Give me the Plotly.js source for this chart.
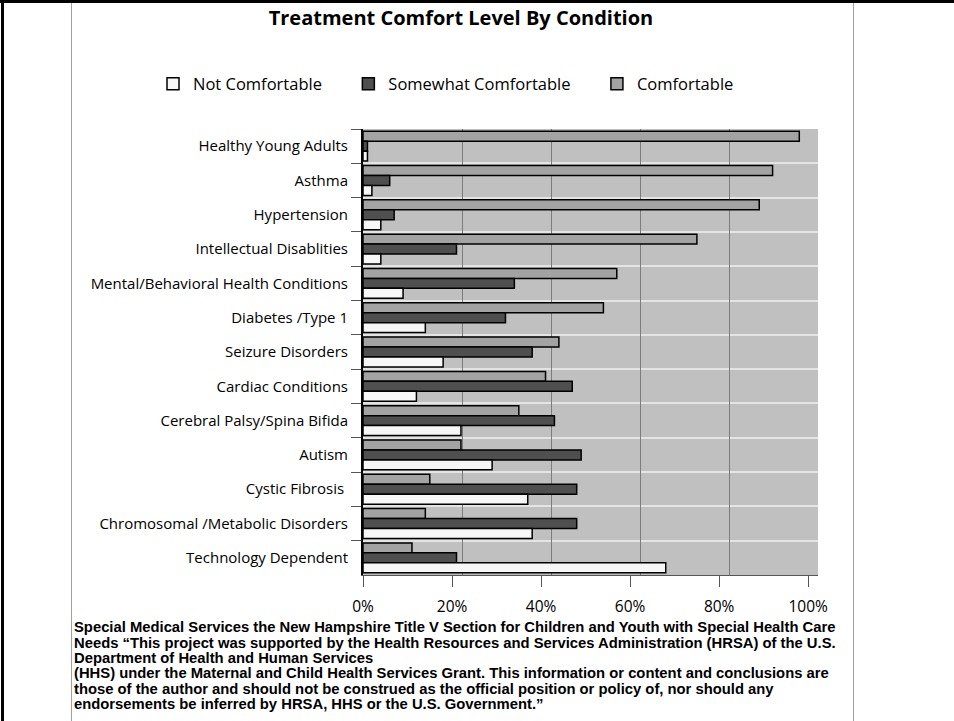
<!DOCTYPE html>
<html><head><meta charset="utf-8">
<script src="https://cdn.plot.ly/plotly-3.0.1.min.js"></script>
<style>
html,body{margin:0;padding:0;background:#fff;}
#wrap{position:relative;width:954px;height:721px;overflow:hidden;}
#chart{width:954px;height:721px;}
.frame{position:absolute;pointer-events:none;}
</style></head><body>
<div id="wrap">
<div id="chart"></div>
<div class="frame" style="left:0;top:0;width:954px;height:3px;background:#000"></div>
<div class="frame" style="left:1px;top:0;width:3px;height:721px;background:#000"></div>
<div class="frame" style="left:71px;top:3px;width:1px;height:718px;background:#a0a0a0"></div>
<div class="frame" style="left:853px;top:3px;width:1px;height:718px;background:#a0a0a0"></div>
</div>
<script>
var categories = ["Healthy Young Adults","Asthma","Hypertension","Intellectual Disablities",
  "Mental/Behavioral Health Conditions","Diabetes /Type 1","Seizure Disorders","Cardiac Conditions",
  "Cerebral Palsy/Spina Bifida","Autism","Cystic Fibrosis ","Chromosomal /Metabolic Disorders",
  "Technology Dependent"];
var comfortable    = [98, 92, 89, 75, 57, 54, 44, 41, 35, 22, 15, 14, 11];
var somewhat       = [ 1,  6,  7, 21, 34, 32, 38, 47, 43, 49, 48, 48, 21];
var notComfortable = [ 1,  2,  4,  4,  9, 14, 18, 12, 22, 29, 37, 38, 68];
var seriesNames = ["Comfortable", "Somewhat Comfortable", "Not Comfortable"];
var tickValues = [0, 20, 40, 60, 80, 100];
var tickLabels = ["0%", "20%", "40%", "60%", "80%", "100%"];
var footerLines = [
  "Special Medical Services the New Hampshire Title V Section for Children and Youth with Special Health Care",
  "Needs \u201cThis project was supported by the Health Resources and Services Administration (HRSA) of the U.S.",
  "Department of Health and Human Services",
  "(HHS) under the Maternal and Child Health Services Grant. This information or content and conclusions are",
  "those of the author and should not be construed as the official position or policy of, nor should any",
  "endorsements be inferred by HRSA, HHS or the U.S. Government.\u201d"
];

var labelFont = "Open Sans, DejaVu Sans, sans-serif";
var pad = "\u00a0\u00a0\u00a0\u00a0\u00a0";
function mk(vals, name, color) {
  return {type:"bar", orientation:"h", x: vals, y: categories, name: name + pad,
    marker:{color: color, line:{color:"#000", width:1.5}}, hoverinfo:"x+y"};
}
var data = [
  mk(comfortable, seriesNames[0], "#a3a3a3"),
  mk(somewhat, seriesNames[1], "#4f4f4f"),
  mk(notComfortable, seriesNames[2], "#f7f7f7"),
  {type:"scatter", mode:"markers", x:[], y:[], xaxis:"x2", yaxis:"y", showlegend:false, hoverinfo:"skip"}
];

var L = 363, R = 818, T = 129, B = 575;
function px2paperX(p){ return (p - L) / (R - L); }
function px2paperY(p){ return (B - p) / (B - T); }
var footerY = [627, 642.5, 658, 673, 688.5, 704];
var annotations = footerLines.map(function(t, i){
  return {text: t, xref:"paper", yref:"paper", x: px2paperX(72), y: px2paperY(footerY[i]),
    xanchor:"left", yanchor:"middle", showarrow:false, align:"left",
    font:{family:"Liberation Sans, Arial, sans-serif", size:14.8, color:"#000", weight:"bold"}};
});

var layout = {
  width:954, height:721,
  margin:{l:L, r:954-R, t:T, b:721-B, pad:0},
  paper_bgcolor:"rgba(0,0,0,0)", plot_bgcolor:"#c0c0c0",
  barmode:"group", bargap:0.13, bargroupgap:0,
  title:{text:"Treatment Comfort Level By Condition", x:0.4832, xref:"container", xanchor:"center",
    y:1-18/721, yref:"container", yanchor:"middle",
    font:{family:labelFont, size:20, color:"#000", weight:"bold"}},
  showlegend:true,
  legend:{orientation:"h", traceorder:"reversed", x:px2paperX(153), y:px2paperY(84), xanchor:"left", yanchor:"middle",
    font:{family:labelFont, size:16.5, color:"#000"}, bgcolor:"rgba(0,0,0,0)", itemclick:false},
  xaxis:{range:[0,102.2], tickvals:tickValues, ticktext:tickLabels, showgrid:false, zeroline:false,
    ticks:"outside", ticklen:11, tickcolor:"#555", tickwidth:1, showline:true, linecolor:"#555", linewidth:1,
    ticklabelstandoff:6, tickfont:{family:labelFont, size:15.5, color:"#000"}, fixedrange:true},
  xaxis2:{overlaying:"x", anchor:"y", side:"bottom", range:[-2.24, 99.8], tickvals:[20,40,60,80],
    showgrid:true, gridcolor:"#7c7c7c", gridwidth:1, showticklabels:false, ticks:"", showline:false, zeroline:false,
    fixedrange:true},
  yaxis:{type:"category", autorange:"reversed", tickson:"boundaries", ticks:"outside", ticklen:10,
    tickcolor:"#555", showline:true, linecolor:"#000", linewidth:2, showgrid:true, gridcolor:"#e4e4e4", gridwidth:2,
    zeroline:false, ticklabelstandoff:10, tickfont:{family:labelFont, size:15, color:"#000"}, fixedrange:true},
  annotations: annotations
};
Plotly.newPlot("chart", data, layout, {displayModeBar:false, staticPlot:true});
</script>
</body></html>
